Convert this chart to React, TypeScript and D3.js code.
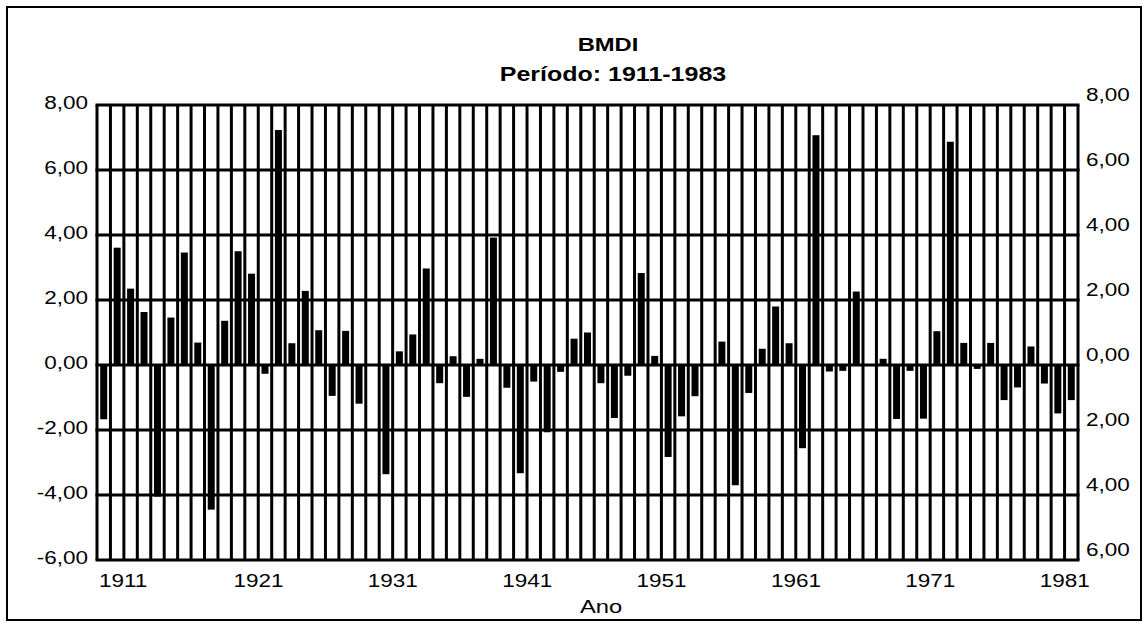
import { useEffect, useRef } from 'react';
import * as d3 from 'd3';

// anos 1911-1983
const years: number[] = d3.range(1911, 1984);

// valores BMDI
const bmdi: number[] = [
  -1.67, 3.61, 2.35, 1.63, -4.05, 1.46, 3.46, 0.69, -4.45, 1.36,
  3.5, 2.81, -0.27, 7.23, 0.67, 2.28, 1.07, -0.95, 1.05, -1.19,
  0, -3.36, 0.42, 0.94, 2.97, -0.56, 0.27, -0.98, 0.19, 3.92,
  -0.7, -3.33, -0.51, -2.07, -0.21, 0.81, 1.0, -0.56, -1.63, -0.33,
  2.83, 0.28, -2.83, -1.58, -0.96, 0, 0.72, -3.7, -0.86, 0.5,
  1.8, 0.67, -2.56, 7.07, -0.2, -0.18, 2.26, 0, 0.19, -1.66,
  -0.18, -1.65, 1.04, 6.87, 0.68, -0.12, 0.68, -1.08, -0.69, 0.57,
  -0.57, -1.49, -1.08,
];

const yTicks: number[] = [8, 6, 4, 2, 0, -2, -4, -6];
const xLabelYears: number[] = [1911, 1921, 1931, 1941, 1951, 1961, 1971, 1981];

const fmt = (v: number) => v.toFixed(2).replace('.', ',');

export default function App() {
  const svgRef = useRef<SVGSVGElement>(null);

  useEffect(() => {
    const svg = d3.select(svgRef.current);
    svg.selectAll('*').remove();

    const W = 1146, H = 624;
    const left = 97, right = 1078, top = 105, bottom = 560;
    const font = '"Liberation Sans", Arial, sans-serif';
    const sx = 1.25; // o grafico original esta esticado na horizontal

    const x = d3.scaleBand<number>().domain(years).range([left, right]).padding(0);
    const y = d3.scaleLinear().domain([-6, 8]).range([bottom, top]);

    svg.append('rect').attr('width', W).attr('height', H).attr('fill', '#fff');

    // moldura externa
    svg.append('rect')
      .attr('x', 7).attr('y', 7).attr('width', 1134).attr('height', 613)
      .attr('fill', 'none').attr('stroke', '#000').attr('stroke-width', 2);

    const text = (tx: number, ty: number, s: string, size: number, anchor: string, bold = false) =>
      svg.append('text')
        .attr('transform', `translate(${tx},${ty}) scale(${sx},1)`)
        .attr('text-anchor', anchor)
        .attr('font-family', font)
        .attr('font-size', size)
        .attr('font-weight', bold ? 'bold' : 'normal')
        .attr('fill', '#000')
        .text(s);

    // titulo
    text(608, 51, 'BMDI', 19, 'middle', true);
    text(613, 81, 'Período: 1911-1983', 20, 'middle', true);

    // barras
    svg.append('g').selectAll('rect')
      .data(years)
      .join('rect')
      .attr('x', (d) => x(d)! + x.bandwidth() / 2 - 3.5)
      .attr('width', 7)
      .attr('y', (d, i) => y(Math.max(0, bmdi[i])))
      .attr('height', (d, i) => Math.abs(y(bmdi[i]) - y(0)))
      .attr('fill', '#000');

    // grade vertical
    const vb = years.map((d) => x(d)!).concat([right]);
    svg.append('g').selectAll('line')
      .data(vb)
      .join('line')
      .attr('x1', (d) => d).attr('x2', (d) => d)
      .attr('y1', top).attr('y2', bottom)
      .attr('stroke', '#000').attr('stroke-width', 3);

    // grade horizontal
    svg.append('g').selectAll('line')
      .data(yTicks)
      .join('line')
      .attr('x1', left - 1.5).attr('x2', right + 1.5)
      .attr('y1', (d) => y(d)).attr('y2', (d) => y(d))
      .attr('stroke', '#000').attr('stroke-width', 3);

    // eixo esquerdo
    yTicks.forEach((t) => text(left - 9, y(t) + 4, fmt(t), 18, 'end'));
    // eixo direito (valores absolutos)
    yTicks.forEach((t) => text(right + 8, y(t) - 4, fmt(Math.abs(t)), 18, 'start'));

    // rotulos dos anos
    xLabelYears.forEach((yr) => text(x(yr)! + 2, 587, String(yr), 18, 'start'));

    text(601, 613, 'Ano', 19, 'middle');
  }, []);

  return (
    <svg
      ref={svgRef}
      width={1146}
      height={624}
      style={{ position: 'absolute', left: 0, top: 0, display: 'block' }}
    />
  );
}
